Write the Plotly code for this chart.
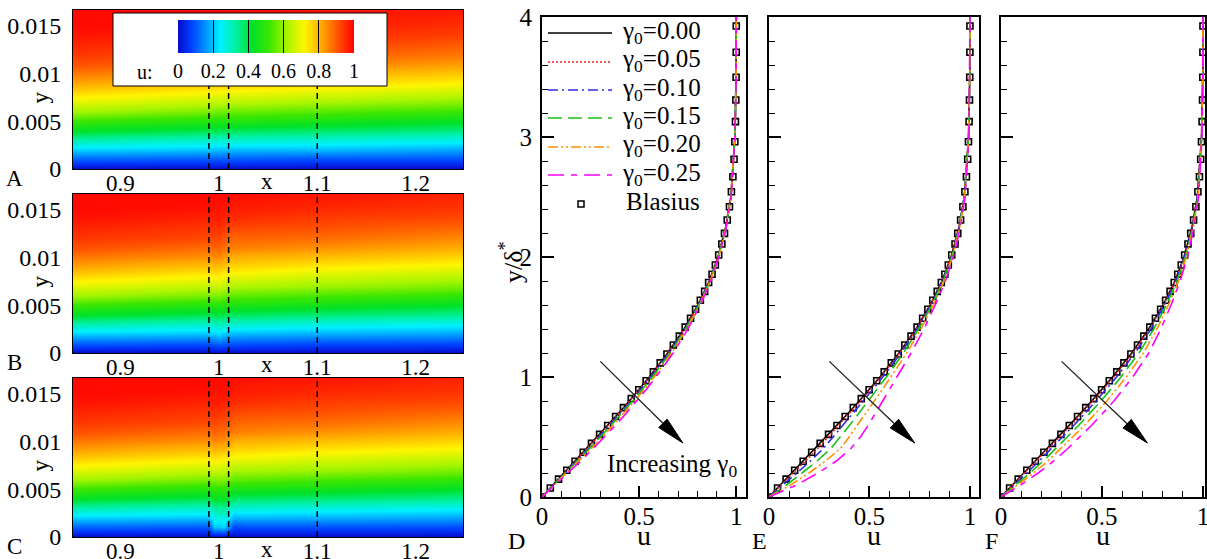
import math
import plotly.graph_objects as go

W, H = 1207, 559
FONT = "Liberation Serif, Times New Roman, serif"

# ---------------- contour panels A, B, C : u(x, y) ----------------
Y_GRID = [0, 0.001, 0.002, 0.003, 0.004, 0.005, 0.006, 0.007, 0.008, 0.009,
          0.010, 0.011, 0.012, 0.013, 0.014, 0.015, 0.0165]

# u profiles (bottom -> top) at each x station
XA = [0.85, 0.99, 1.01, 1.1, 1.25]
UA_COLS = [
    [0, .11, .21, .32, .42, .52, .61, .69, .76, .82, .87, .91, .94, .96, .98, .99, .99],
    [0, .10, .20, .29, .39, .48, .57, .65, .72, .78, .84, .88, .92, .94, .96, .98, .99],
    [0, .10, .19, .29, .38, .48, .56, .64, .71, .78, .83, .88, .91, .94, .96, .98, .99],
    [0, .09, .19, .28, .37, .46, .54, .62, .69, .76, .81, .86, .90, .93, .95, .97, .98],
    [0, .09, .17, .26, .35, .43, .51, .59, .66, .72, .78, .83, .87, .90, .93, .95, .97],
]

XB = [0.85, 0.99, 1.0, 1.01, 1.1, 1.25]
UB_COLS = [
    [0, .11, .21, .32, .42, .52, .61, .69, .76, .82, .87, .91, .94, .96, .98, .99, .99],
    [0, .10, .20, .29, .39, .48, .57, .65, .72, .78, .84, .88, .92, .94, .96, .98, .99],
    [0, .12, .22, .31, .40, .49, .58, .66, .73, .79, .85, .89, .92, .95, .97, .98, .99],
    [0, .10, .19, .29, .38, .47, .55, .63, .70, .76, .81, .86, .89, .92, .95, .97, .985],
    [0, .09, .18, .27, .36, .45, .53, .61, .67, .73, .79, .84, .88, .91, .93, .955, .975],
    [0, .085, .17, .25, .34, .42, .50, .58, .64, .70, .76, .81, .85, .885, .915, .94, .96],
]

XC = [0.85, 0.99, 0.995, 1.005, 1.015, 1.03, 1.1, 1.25]
UC_COLS = [
    [0, .11, .21, .32, .42, .52, .61, .69, .76, .82, .87, .91, .94, .96, .98, .99, .99],
    [0, .10, .20, .29, .39, .48, .57, .65, .72, .78, .84, .88, .92, .94, .96, .98, .99],
    [0, .20, .26, .33, .42, .50, .58, .66, .73, .79, .85, .89, .92, .95, .97, .98, .99],
    [0, .21, .27, .34, .42, .50, .58, .65, .72, .78, .84, .88, .91, .94, .96, .98, .99],
    [0, .08, .18, .28, .37, .46, .55, .62, .69, .75, .81, .86, .89, .92, .95, .97, .985],
    [0, .09, .185, .28, .37, .46, .545, .62, .69, .75, .805, .855, .885, .915, .945, .965, .98],
    [0, .09, .18, .27, .36, .45, .53, .61, .67, .73, .79, .84, .88, .91, .93, .955, .975],
    [0, .085, .17, .25, .34, .42, .50, .58, .64, .70, .76, .81, .85, .885, .915, .94, .96],
]

DASH_X = [0.99, 1.01, 1.1]
HX_TICKS = [0.9, 1, 1.1, 1.2]
HX_TICKTEXT = ["0.9", "1", "1.1", "1.2"]
HY_TICKS = [0, 0.005, 0.01, 0.015]
HY_TICKTEXT = ["0", "0.005", "0.01", "0.015"]
CB_TICKS = [0, 0.2, 0.4, 0.6, 0.8, 1]
CB_TICKTEXT = ["0", "0.2", "0.4", "0.6", "0.8", "1"]

COLORSCALE = [
    [0.00, "rgb(10,10,200)"],
    [0.07, "rgb(0,60,255)"],
    [0.15, "rgb(0,140,255)"],
    [0.24, "rgb(0,240,255)"],
    [0.33, "rgb(0,240,160)"],
    [0.42, "rgb(0,225,40)"],
    [0.52, "rgb(60,230,0)"],
    [0.62, "rgb(170,245,0)"],
    [0.72, "rgb(255,245,0)"],
    [0.82, "rgb(255,165,0)"],
    [0.91, "rgb(255,80,0)"],
    [1.00, "rgb(255,0,0)"],
]

# ---------------- profile panels D, E, F : y/delta* vs u ----------------
Y_PROF = [0, 0.1, 0.2, 0.3, 0.4, 0.5, 0.6, 0.7, 0.8, 0.9, 1.0, 1.2, 1.4, 1.6,
          1.8, 2.0, 2.25, 2.5, 3.0, 3.5, 4.0]
GAMMAS = ["0.00", "0.05", "0.10", "0.15", "0.20", "0.25"]

U_D = [
    [0, .057, .114, .171, .228, .284, .340, .395, .449, .501, .552, .647, .731, .802, .861, .906, .946, .972, .993, .999, 1.0],
    [0, .058, .116, .173, .231, .287, .343, .398, .452, .504, .555, .649, .733, .803, .861, .906, .946, .972, .993, .999, 1.0],
    [0, .060, .119, .178, .237, .294, .350, .405, .459, .511, .561, .654, .736, .805, .863, .907, .946, .972, .993, .999, 1.0],
    [0, .062, .123, .184, .243, .301, .358, .413, .467, .518, .568, .660, .740, .808, .865, .908, .947, .973, .993, .999, 1.0],
    [0, .064, .128, .191, .252, .311, .368, .423, .477, .528, .577, .667, .745, .811, .867, .910, .948, .973, .993, .999, 1.0],
    [0, .067, .134, .199, .262, .322, .380, .435, .489, .539, .587, .675, .751, .815, .869, .911, .949, .974, .993, .999, 1.0],
]
U_E = [
    [0, .057, .114, .171, .228, .284, .340, .395, .449, .501, .552, .647, .731, .802, .861, .906, .946, .972, .993, .999, 1.0],
    [0, .062, .122, .181, .240, .295, .349, .403, .455, .506, .556, .650, .733, .803, .861, .906, .946, .972, .993, .999, 1.0],
    [0, .072, .139, .206, .268, .319, .370, .420, .469, .518, .566, .657, .737, .806, .864, .908, .946, .972, .993, .999, 1.0],
    [0, .087, .164, .239, .306, .356, .402, .448, .494, .539, .584, .669, .745, .811, .867, .910, .948, .972, .993, .999, 1.0],
    [0, .107, .199, .281, .353, .399, .440, .480, .524, .566, .607, .685, .756, .818, .871, .913, .950, .974, .993, .999, 1.0],
    [0, .137, .244, .335, .405, .455, .495, .530, .565, .600, .637, .707, .771, .827, .878, .917, .953, .976, .995, .999, 1.0],
]
U_F = [
    [0, .057, .114, .171, .228, .284, .340, .395, .449, .501, .552, .647, .731, .802, .861, .906, .946, .972, .993, .999, 1.0],
    [0, .059, .118, .176, .234, .290, .347, .402, .456, .507, .558, .652, .735, .804, .863, .907, .946, .972, .993, .999, 1.0],
    [0, .065, .128, .189, .248, .305, .362, .417, .471, .522, .572, .664, .743, .810, .866, .909, .948, .973, .993, .999, 1.0],
    [0, .074, .143, .209, .270, .328, .386, .441, .495, .545, .594, .683, .756, .819, .872, .913, .950, .975, .994, .999, 1.0],
    [0, .084, .162, .232, .296, .355, .415, .470, .524, .572, .620, .705, .772, .829, .879, .918, .953, .976, .994, .999, 1.0],
    [0, .097, .184, .261, .328, .389, .450, .505, .559, .606, .652, .732, .791, .842, .887, .923, .956, .978, .995, .999, 1.0],
]

BL_Y = [0, 0.0745, 0.149, 0.2235, 0.298, 0.3725, 0.447, 0.5215, 0.596, 0.6705,
        0.745, 0.8195, 0.894, 0.9685, 1.043, 1.1175, 1.192, 1.2665, 1.341, 1.4155,
        1.49, 1.5645, 1.639, 1.7135, 1.788, 1.856, 1.933, 2.017, 2.108, 2.197,
        2.308, 2.419, 2.544, 2.669, 2.814, 2.961, 3.128, 3.308, 3.498, 3.706, 3.925]
BL_U = [0, 0.0426, 0.0851, 0.1277, 0.1701, 0.2124, 0.2546, 0.2964, 0.3380, 0.3790,
        0.4194, 0.4594, 0.4982, 0.5361, 0.5733, 0.6086, 0.6430, 0.6760, 0.7070, 0.7368,
        0.7647, 0.7905, 0.8150, 0.8371, 0.8576, 0.8752, 0.8923, 0.9094, 0.9257, 0.9394,
        0.9535, 0.9649, 0.9749, 0.9825, 0.9886, 0.9926, 0.9957, 0.9977, 0.9990, 0.9996, 0.9999]

LINE_COLORS = ["black", "rgb(235,35,35)", "rgb(45,45,230)", "rgb(20,195,20)",
               "rgb(255,145,0)", "rgb(255,0,255)"]
LINE_DASHES = ["solid", "2px,2px", "10px,4px,2px,4px", "14px,6px",
               "10px,3px,2px,3px,2px,3px", "16px,7px,6px,7px"]

ARROW_START = (0.30, 1.13)
ARROW_END = (0.725, 0.45)

# ---------------- layout geometry (pixels) ----------------
DOM = {
    "A": (73, 463, 10, 169),
    "B": (73, 463, 194, 353),
    "C": (73, 463, 378, 537),
    "D": (542, 746, 17, 497),
    "E": (769, 979, 17, 497),
    "F": (1001, 1205, 17, 497),
}
HX_RANGE = [0.852, 1.248]
HY_RANGE = [0, 0.0166]
PX_RANGE = {"D": [0, 1.05], "E": [0, 1.045], "F": [0, 1.01]}
PY_RANGE = [0, 4]


def PX(x):
    return x / W


def PY(y):
    return 1 - y / H


def transpose(cols):
    return [list(r) for r in zip(*cols)]


def label(px, py, text, size, xanchor="center", angle=0):
    return dict(x=PX(px), y=PY(py), xref="paper", yref="paper", text=text,
                xanchor=xanchor, yanchor="middle", textangle=angle, showarrow=False,
                font=dict(size=size, family=FONT, color="black"))


fig = go.Figure()
shapes = []
annotations = []
layout_axes = {}

heat_sets = [("A", XA, UA_COLS), ("B", XB, UB_COLS), ("C", XC, UC_COLS)]
for i, (key, xs, cols) in enumerate(heat_sets, start=1):
    sfx = "" if i == 1 else str(i)
    x0, x1, y0, y1 = DOM[key]
    fig.add_trace(go.Heatmap(x=xs, y=Y_GRID, z=transpose(cols), coloraxis="coloraxis",
                             zsmooth="best", xaxis="x" + sfx, yaxis="y" + sfx,
                             hoverinfo="skip"))
    layout_axes["xaxis" + sfx] = dict(
        domain=[PX(x0), PX(x1)], range=HX_RANGE, anchor="y" + sfx,
        tickmode="array", tickvals=HX_TICKS, ticktext=HX_TICKTEXT, ticks="",
        showline=True, mirror=True, linecolor="black", linewidth=1,
        showgrid=False, zeroline=False, ticklabelstandoff=-7,
        tickfont=dict(size=23, color="black", family=FONT))
    layout_axes["yaxis" + sfx] = dict(
        domain=[PY(y1), PY(y0)], range=HY_RANGE, anchor="x" + sfx,
        tickmode="array", tickvals=HY_TICKS, ticktext=HY_TICKTEXT, ticks="",
        showline=True, mirror=True, linecolor="black", linewidth=1,
        showgrid=False, zeroline=False, ticklabelstandoff=6,
        tickfont=dict(size=24, color="black", family=FONT))
    for xd in DASH_X:
        shapes.append(dict(type="line", xref="x" + sfx, yref="y%s domain" % sfx,
                           x0=xd, x1=xd, y0=0, y1=1, layer="above",
                           line=dict(color="black", width=1.5, dash="6px,4px")))
    annotations.append(label(267, y1 + 12, "x", 23))
    annotations.append(label(40, (y0 + y1) / 2 + 8, "y", 23, angle=-90))
    annotations.append(label(14, y1 + 9, key, 23))

# white box behind the colour bar (panel A)
shapes.append(dict(type="rect", xref="paper", yref="paper", x0=PX(113), x1=PX(387),
                   y0=PY(86), y1=PY(13), fillcolor="white", layer="above",
                   line=dict(color="black", width=1)))
annotations.append(label(145, 72, "u:", 20))

prof_sets = [("D", U_D), ("E", U_E), ("F", U_F)]
for j, (key, series) in enumerate(prof_sets, start=4):
    sfx = str(j)
    x0, x1, y0, y1 = DOM[key]
    fig.add_trace(go.Scatter(x=BL_U, y=BL_Y, mode="markers", xaxis="x" + sfx, yaxis="y" + sfx,
                             marker=dict(symbol="square-open", size=6, color="black",
                                         line=dict(width=1.6, color="black")),
                             showlegend=False, name="Blasius"))
    for k, us in enumerate(series):
        fig.add_trace(go.Scatter(x=us, y=Y_PROF, mode="lines", xaxis="x" + sfx, yaxis="y" + sfx,
                                 line=dict(color=LINE_COLORS[k], width=1.6, dash=LINE_DASHES[k]),
                                 showlegend=False, name="γ0=" + GAMMAS[k]))
    layout_axes["xaxis" + sfx] = dict(
        domain=[PX(x0), PX(x1)], range=PX_RANGE[key], anchor="y" + sfx,
        tickmode="linear", tick0=0, dtick=0.5, ticks="inside", ticklen=11, tickwidth=1.5,
        tickcolor="black", ticklabeloverflow="allow",
        minor=dict(tickmode="linear", tick0=0, dtick=0.1, ticks="inside", ticklen=6,
                   tickwidth=1, tickcolor="black"),
        showline=True, mirror=True, linecolor="black", linewidth=2,
        showgrid=False, zeroline=False, ticklabelstandoff=-4,
        tickfont=dict(size=25, color="black", family=FONT))
    layout_axes["yaxis" + sfx] = dict(
        domain=[PY(y1), PY(y0)], range=PY_RANGE, anchor="x" + sfx,
        tickmode="linear", tick0=0, dtick=1, ticks="inside", ticklen=12, tickwidth=1.5,
        tickcolor="black", ticklabeloverflow="allow",
        minor=dict(tickmode="linear", tick0=0, dtick=0.2, ticks="inside", ticklen=6,
                   tickwidth=1, tickcolor="black"),
        showline=True, mirror=True, linecolor="black", linewidth=2,
        showgrid=False, zeroline=False, ticklabelstandoff=3,
        showticklabels=(key == "D"),
        tickfont=dict(size=25, color="black", family=FONT))

    # arrow "increasing gamma0"
    xr = PX_RANGE[key]

    def to_px(u, v, x0=x0, x1=x1, y0=y0, y1=y1, xr=xr):
        return (x0 + (u - xr[0]) / (xr[1] - xr[0]) * (x1 - x0),
                y1 - (v - PY_RANGE[0]) / (PY_RANGE[1] - PY_RANGE[0]) * (y1 - y0))

    sx, sy = to_px(*ARROW_START)
    tx, ty = to_px(*ARROW_END)
    L = math.hypot(tx - sx, ty - sy)
    dx, dy = (tx - sx) / L, (ty - sy) / L
    hl, hw = 28, 6
    bx, by = tx - hl * dx, ty - hl * dy
    nx, ny = -dy, dx
    shapes.append(dict(type="line", xref="paper", yref="paper",
                       x0=PX(sx), y0=PY(sy), x1=PX(bx), y1=PY(by),
                       line=dict(color="rgb(30,30,30)", width=1.3)))
    path = "M %f,%f L %f,%f L %f,%f Z" % (PX(tx), PY(ty), PX(bx + hw * nx), PY(by + hw * ny),
                                         PX(bx - hw * nx), PY(by - hw * ny))
    shapes.append(dict(type="path", xref="paper", yref="paper", path=path,
                       fillcolor="black", line=dict(color="black", width=1)))

    annotations.append(label((x0 + x1) / 2, 535, "u", 28))

annotations.append(label(516, 541, "D", 24))
annotations.append(label(759, 541, "E", 24))
annotations.append(label(991, 541, "F", 24))
annotations.append(label(511, 262, "y/δ<sup>*</sup>", 26, angle=-90))
annotations.append(label(672, 465, "Increasing γ<sub>0</sub>", 25))

# legend of panel D (drawn manually to match row spacing)
LEG_ROWS = [33, 62, 90, 118, 147, 175]
for k, g in enumerate(GAMMAS):
    ry = LEG_ROWS[k]
    shapes.append(dict(type="line", xref="paper", yref="paper", x0=PX(548), x1=PX(612),
                       y0=PY(ry), y1=PY(ry),
                       line=dict(color=LINE_COLORS[k], width=1.6, dash=LINE_DASHES[k])))
    annotations.append(label(620, ry - 1, "γ<sub>0</sub>=" + g, 25, xanchor="left"))
shapes.append(dict(type="rect", xref="paper", yref="paper", x0=PX(578), x1=PX(584),
                   y0=PY(207), y1=PY(201), line=dict(color="black", width=1.5)))
annotations.append(label(624, 201, "Blasius", 25, xanchor="left"))

fig.update_layout(
    width=W, height=H, margin=dict(l=0, r=0, t=0, b=0, pad=0, autoexpand=False),
    paper_bgcolor="white", plot_bgcolor="white",
    font=dict(family=FONT, color="black"),
    showlegend=False,
    coloraxis=dict(
        cmin=0, cmax=1, colorscale=COLORSCALE,
        colorbar=dict(orientation="h", x=PX(266), xanchor="center", y=PY(20), yanchor="top",
                      len=176, lenmode="pixels", thickness=33, thicknessmode="pixels",
                      xpad=0, ypad=0, outlinewidth=0,
                      tickmode="array", tickvals=CB_TICKS, ticktext=CB_TICKTEXT,
                      ticks="inside", ticklen=33, tickwidth=1, tickcolor="black",
                      tickfont=dict(size=20, family=FONT, color="black"))),
    shapes=shapes, annotations=annotations,
    **layout_axes,
)

fig.write_html("out.html")
